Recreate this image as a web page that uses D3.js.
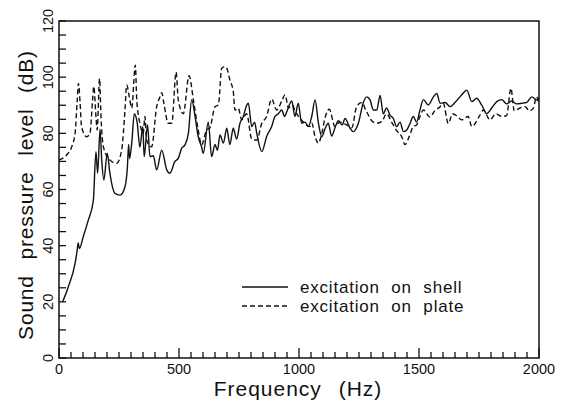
<!DOCTYPE html>
<html>
<head>
<meta charset="utf-8">
<script src="https://cdn.jsdelivr.net/npm/d3@7"></script>
<style>
  body { margin: 0; background: #fff; }
  text { font-family: "Liberation Sans", Arial, sans-serif; fill: #111; }
</style>
</head>
<body>
<svg id="chart" width="563" height="403"></svg>
<script>
// excitation on shell (solid)
var shellFreq = [15, 18, 39, 67, 76, 80, 85, 101, 122, 143, 154, 161, 171, 178, 187, 201, 212, 233, 254, 275, 285, 290, 294, 303, 314, 326, 337, 349, 355, 369, 379, 393, 407, 428, 449, 462, 483, 497, 511, 525, 539, 553, 567, 580, 594, 601, 622, 636, 650, 660, 671, 685, 699, 712, 726, 740, 754, 768, 782, 789, 803, 815, 824, 845, 865, 886, 900, 914, 928, 940, 949, 970, 983, 997, 1011, 1025, 1039, 1053, 1067, 1081, 1095, 1110, 1122, 1136, 1150, 1164, 1180, 1192, 1213, 1226, 1247, 1268, 1282, 1296, 1310, 1324, 1338, 1351, 1365, 1379, 1393, 1407, 1421, 1435, 1449, 1463, 1476, 1490, 1504, 1518, 1539, 1560, 1574, 1588, 1609, 1629, 1650, 1678, 1699, 1720, 1740, 1761, 1782, 1803, 1824, 1845, 1865, 1886, 1907, 1928, 1949, 1970, 1990, 2000];
var shellSpl = [20, 20.6, 25.4, 33.7, 38.5, 41, 39, 43.2, 49.1, 56, 73.5, 65.8, 81.5, 70.5, 63.4, 72.9, 65.8, 58.6, 58, 61, 68, 76, 71, 76.5, 87, 83.6, 75, 82.4, 71.7, 83, 71.7, 72, 67, 74, 67, 65.8, 70, 71.1, 74.7, 75.9, 80, 92, 86, 78.8, 75.2, 72.9, 84, 71.7, 76, 74, 79.4, 76.5, 81.8, 76, 81.8, 78, 83.6, 86, 90, 90.7, 82.4, 84, 80, 73.5, 78.8, 82.4, 86, 87, 88.3, 86, 87.7, 91.5, 86, 90.7, 83.6, 84, 82.4, 86, 91.9, 83.6, 78.8, 82, 83.6, 79, 82, 84.5, 83, 85.3, 81.8, 80.6, 83.5, 91, 93, 91.9, 88.3, 88.3, 93.5, 87, 89, 86.5, 85.3, 82.4, 84, 80.6, 81.2, 83.6, 86, 84, 88.3, 92, 90.1, 93, 94.2, 90.7, 91, 89.5, 91, 93.7, 95.4, 91.3, 92.5, 90.1, 87, 89, 91.3, 92, 90.5, 91.5, 90.5, 90.7, 91, 93, 91.9, 92.5];

// excitation on plate (dashed)
var plateFreq = [0, 32, 53, 67, 76, 81, 88, 94, 115, 129, 140, 145, 154, 159, 169, 175, 185, 212, 240, 261, 275, 282, 293, 303, 318, 324, 337, 351, 358, 365, 386, 407, 421, 428, 437, 455, 470, 488, 497, 518, 542, 560, 580, 594, 615, 629, 650, 664, 678, 692, 699, 712, 726, 733, 747, 761, 782, 803, 824, 845, 865, 886, 907, 928, 942, 956, 970, 990, 1018, 1046, 1053, 1067, 1081, 1095, 1110, 1126, 1150, 1170, 1199, 1220, 1240, 1261, 1280, 1303, 1324, 1345, 1365, 1386, 1407, 1428, 1442, 1460, 1476, 1490, 1504, 1518, 1546, 1565, 1588, 1601, 1622, 1640, 1660, 1678, 1705, 1720, 1754, 1768, 1796, 1820, 1845, 1865, 1883, 1897, 1920, 1942, 1960, 1976, 1990, 2000];
var plateSpl = [70.5, 72.3, 75.2, 80, 91.9, 97.8, 90.7, 82.4, 78.8, 80, 91.9, 96.7, 86, 81.2, 99.5, 86, 75.2, 70.5, 69.3, 74, 88.3, 97.2, 93, 89, 104.3, 91.9, 83.6, 80, 86, 77.6, 75.2, 89.5, 93, 94.5, 90.7, 83.6, 83.6, 101.8, 91.9, 87, 100.5, 91.9, 81.2, 75.9, 81.2, 82, 89.5, 90.1, 103.2, 103.8, 103.2, 99, 95, 88.3, 89, 84.8, 87, 78, 77.6, 83.6, 86, 92.2, 88.3, 91.5, 93.7, 89, 90.1, 87, 84, 82.4, 83.6, 78.8, 76.5, 80, 86, 88.6, 82.4, 84, 83, 82, 89.5, 91, 88, 84.5, 83.6, 84.2, 87, 84, 81, 78.8, 76, 79, 82.4, 83, 86, 88.3, 85.8, 88, 89.5, 90.7, 83.5, 87, 86, 84.8, 86, 82.4, 86.5, 88.3, 84.8, 87, 86, 86.3, 96, 88, 89, 89.5, 88, 88.9, 93, 90];

var xTicks = [0, 500, 1000, 1500, 2000];
var yTicks = [0, 20, 40, 60, 80, 100, 120];
var legendLabels = ["excitation  on  shell", "excitation  on  plate"];

var svg = d3.select("#chart");
var mLeft = 59, mRight = 539, mTop = 21, mBottom = 358;

var x = d3.scaleLinear().domain([0, 2000]).range([mLeft, mRight]);
var y = d3.scaleLinear().domain([0, 120]).range([mBottom, mTop]);

// frame
svg.append("rect")
  .attr("x", mLeft).attr("y", mTop)
  .attr("width", mRight - mLeft).attr("height", mBottom - mTop)
  .attr("fill", "none").attr("stroke", "#111").attr("stroke-width", 1.5);

// x ticks (inward)
d3.range(0, 2001, 50).forEach(function(v){
  var major = v % 500 == 0;
  svg.append("line")
    .attr("x1", x(v)).attr("x2", x(v))
    .attr("y1", mBottom).attr("y2", mBottom - (major ? 10 : 6))
    .attr("stroke", "#111").attr("stroke-width", 1.3);
});
// y ticks (inward)
d3.range(0, 121, 5).forEach(function(v){
  svg.append("line")
    .attr("x1", mLeft).attr("x2", mLeft + 7)
    .attr("y1", y(v)).attr("y2", y(v))
    .attr("stroke", "#111").attr("stroke-width", 1.3);
});

svg.selectAll(".xlab").data(xTicks).enter().append("text")
  .attr("x", function(d){ return x(d); })
  .attr("y", 374)
  .attr("text-anchor", "middle")
  .attr("font-size", 14.5)
  .text(function(d){ return d; });

svg.selectAll(".ylab").data(yTicks).enter().append("text")
  .attr("transform", function(d){ return "translate(53," + y(d) + ") rotate(-90)"; })
  .attr("text-anchor", "middle")
  .attr("font-size", 14.5)
  .text(function(d){ return d; });

svg.append("text")
  .attr("x", 298).attr("y", 396)
  .attr("text-anchor", "middle")
  .attr("font-size", 21)
  .attr("word-spacing", 10)
  .attr("letter-spacing", 1)
  .text("Frequency (Hz)");

svg.append("text")
  .attr("transform", "translate(33,195) rotate(-90)")
  .attr("text-anchor", "middle")
  .attr("font-size", 21)
  .attr("word-spacing", 9)
  .attr("letter-spacing", 0.8)
  .text("Sound pressure level (dB)");

var line = d3.line()
  .x(function(d){ return x(d[0]); })
  .y(function(d){ return y(d[1]); })
  .curve(d3.curveMonotoneX);

var shell = shellFreq.map(function(f, i){ return [f, shellSpl[i]]; });
var plate = plateFreq.map(function(f, i){ return [f, plateSpl[i]]; });

svg.append("path").datum(plate)
  .attr("d", line)
  .attr("fill", "none").attr("stroke", "#111").attr("stroke-width", 1.4)
  .attr("stroke-dasharray", "5,3");

svg.append("path").datum(shell)
  .attr("d", line)
  .attr("fill", "none").attr("stroke", "#111").attr("stroke-width", 1.4);

// legend
var legY = [287, 306];
legendLabels.forEach(function(t, i){
  svg.append("line")
    .attr("x1", 242).attr("x2", 288)
    .attr("y1", legY[i]).attr("y2", legY[i])
    .attr("stroke", "#111").attr("stroke-width", 1.4)
    .attr("stroke-dasharray", i == 1 ? "5,3" : null);
  svg.append("text")
    .attr("x", 300).attr("y", legY[i] + 6)
    .attr("font-size", 17)
    .attr("word-spacing", 6)
    .attr("letter-spacing", 0.8)
    .text(t);
});
</script>
</body>
</html>
